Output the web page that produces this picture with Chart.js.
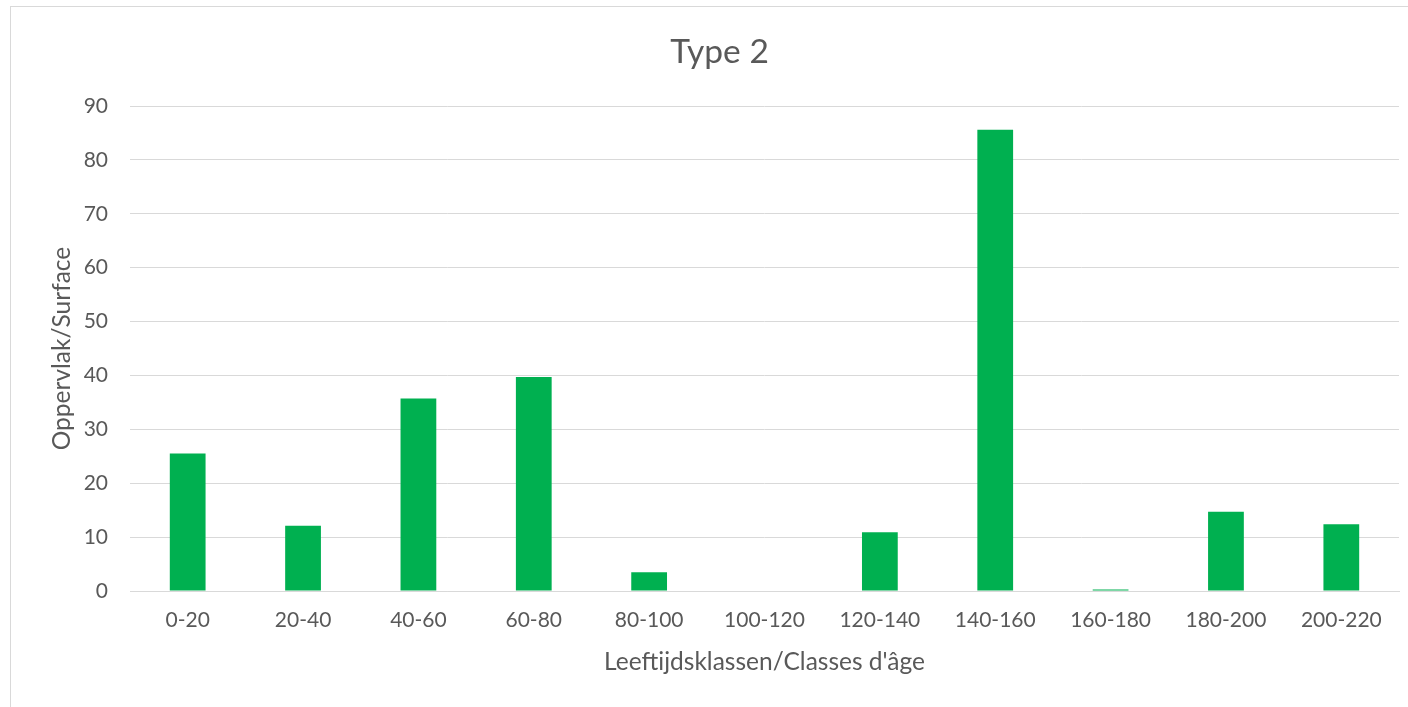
<!DOCTYPE html>
<html>
<head>
<meta charset="utf-8">
<script src="https://cdn.jsdelivr.net/npm/chart.js@4.4.1/dist/chart.umd.min.js"></script>
<style>
  html, body { margin: 0; padding: 0; background: #fff; }
  body { width: 1408px; height: 707px; overflow: hidden; position: relative; }
  #frame { position: absolute; left: 10px; top: 6px; width: 1410px; height: 720px;
           border: 1px solid #d9d9d9; box-sizing: border-box; }
  #wrap { position: absolute; left: 0; top: 0; width: 1408px; height: 707px; }
</style>
</head>
<body>
<div id="frame"></div>
<div id="wrap"><canvas id="c" width="1408" height="707"></canvas></div>
<script>
const categories = ['0-20', '20-40', '40-60', '60-80', '80-100', '100-120',
                    '120-140', '140-160', '160-180', '180-200', '200-220'];
const surface = [25.5, 12.1, 35.7, 39.7, 3.5, 0, 10.9, 85.6, 0.3, 14.7, 12.4];
const yTicks = [0, 10, 20, 30, 40, 50, 60, 70, 80, 90];

const titleText = 'Type 2';
const xTitle = 'Leeftijdsklassen/Classes d\'âge';
const yTitle = 'Oppervlak/Surface';

const FONT = "Lato, 'Open Sans', 'Liberation Sans', sans-serif";
const TXT = '#595959';
const GRID = '#d9d9d9';

new Chart(document.getElementById('c'), {
  type: 'bar',
  data: {
    labels: categories,
    datasets: [{
      data: surface,
      backgroundColor: '#00b050',
      borderWidth: 0,
      barPercentage: 0.31,
      categoryPercentage: 1.0
    }]
  },
  options: {
    responsive: false,
    animation: false,
    devicePixelRatio: 1,
    layout: { padding: { left: 40, right: 9, top: 0, bottom: 0 } },
    plugins: {
      legend: { display: false },
      tooltip: { enabled: false },
      title: {
        display: true,
        text: titleText,
        color: TXT,
        font: { family: FONT, size: 33.5, weight: 'normal', lineHeight: 1.2 },
        padding: { top: 32, bottom: 33.8 }
      }
    },
    scales: {
      x: {
        grid: { display: false, drawTicks: false },
        border: { display: true, color: GRID, width: 1 },
        ticks: { color: TXT, font: { family: FONT, size: 21, lineHeight: 1.2 }, padding: 17, maxRotation: 0 },
        title: {
          display: true, text: xTitle, color: TXT,
          font: { family: FONT, size: 24.5, lineHeight: 1.2 }, padding: { top: 0, bottom: 30 }
        },
        afterFit: (axis) => { axis.height = 116; }
      },
      y: {
        min: 0, max: 90,
        afterBuildTicks: (axis) => { axis.ticks = yTicks.map(v => ({ value: v })); },
        grid: { color: GRID, lineWidth: 1, drawTicks: false },
        border: { display: false },
        ticks: { color: TXT, font: { family: FONT, size: 21, lineHeight: 1.2 }, padding: 22 },
        title: {
          display: true, text: yTitle, color: TXT,
          font: { family: FONT, size: 24.5, lineHeight: 1.2 }, padding: { top: 7, bottom: 0 }
        },
        afterFit: (axis) => { axis.width = 90; }
      }
    }
  }
});
</script>
</body>
</html>
